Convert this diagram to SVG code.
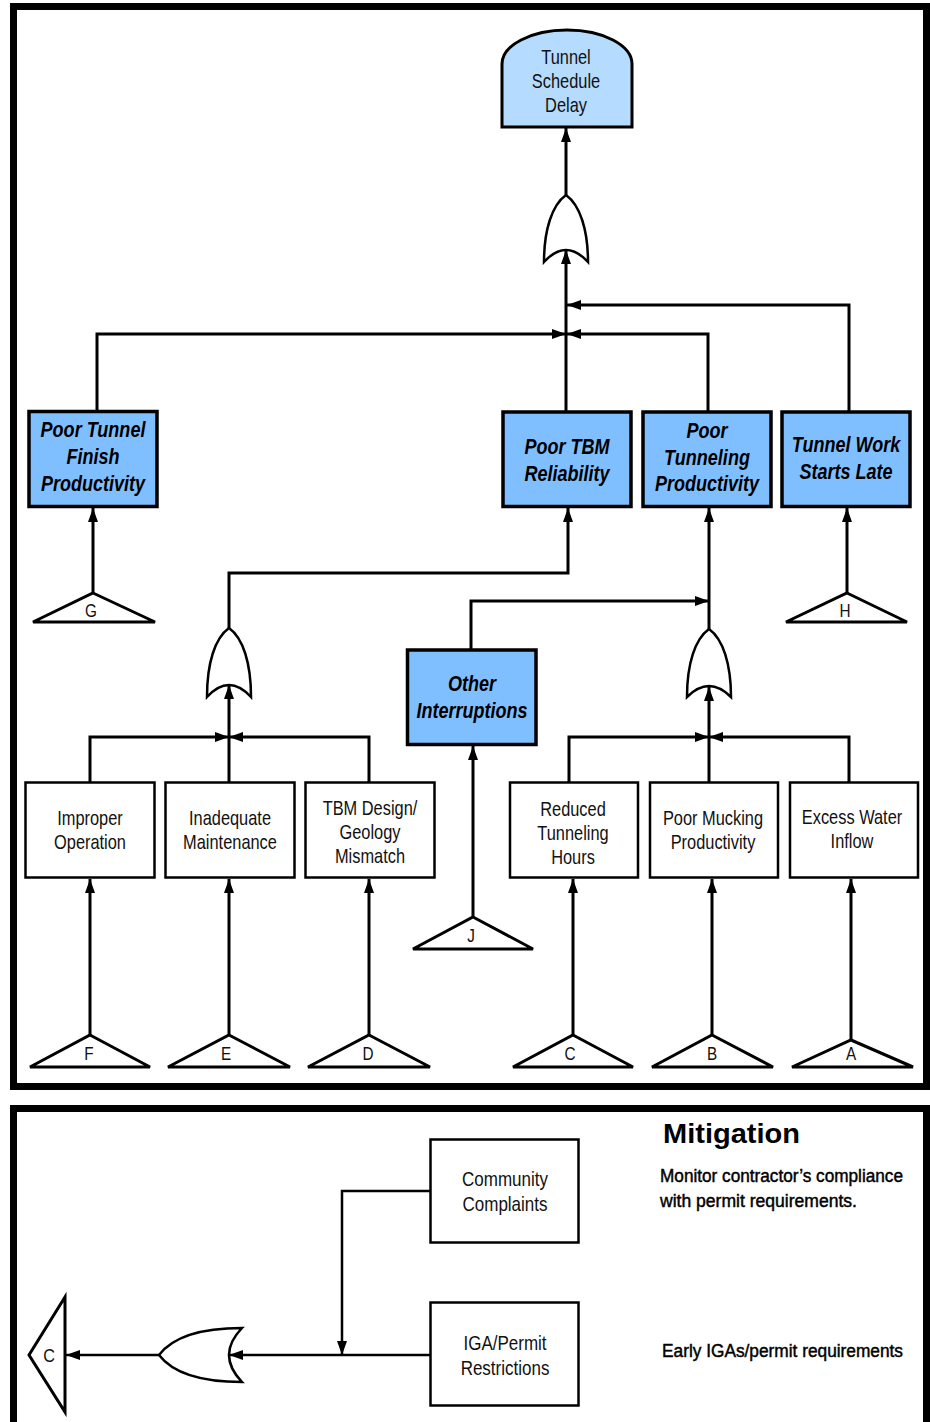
<svg xmlns="http://www.w3.org/2000/svg" width="930" height="1422" viewBox="0 0 930 1422">
  <style>
    .frame { fill: none; stroke: #000; stroke-width: 7; }
    .top { fill: #b5dbff; stroke: #000; stroke-width: 3; }
    .evt { fill: #80bfff; stroke: #000; stroke-width: 3.5; }
    .basic { fill: #fff; stroke: #000; stroke-width: 2.5; }
    .gate { fill: #fff; stroke: #000; stroke-width: 2.5; }
    .tri { fill: #fff; stroke: #000; stroke-width: 3; stroke-linejoin: miter; }
    .wire { fill: none; stroke: #000; stroke-width: 3; marker-end: url(#arrow); }
    .wire2 { fill: none; stroke: #000; stroke-width: 2.5; marker-end: url(#arrow); }
    .lbl { font-family: "Liberation Sans", Arial, sans-serif; font-size: 20px; text-anchor: middle; fill: #111; }
    .bi { font-family: "Liberation Sans", Arial, sans-serif; font-size: 22px; font-weight: bold; font-style: italic; text-anchor: middle; fill: #000; }
    .tl { font-family: "Liberation Sans", Arial, sans-serif; font-size: 18px; text-anchor: middle; fill: #111; }
    .mit { font-family: "Liberation Sans", Arial, sans-serif; font-size: 28px; font-weight: bold; fill: #000; }
    .note { font-family: "Liberation Sans", Arial, sans-serif; font-size: 18px; fill: #000; stroke: #000; stroke-width: 0.45; }
  </style>
  <defs>
    <marker id="arrow" viewBox="0 0 14 10" refX="14" refY="5" markerWidth="14" markerHeight="10" markerUnits="userSpaceOnUse" orient="auto">
      <path d="M0,0 L14,5 L0,10 Z" fill="#000"/>
    </marker>
  </defs>

  <rect width="930" height="1422" fill="#fff"/>

  <!-- panel frames -->
  <rect class="frame" x="13.5" y="6.5" width="913" height="1080"/>
  <rect class="frame" x="13.5" y="1108.5" width="913" height="330"/>

  <!-- connectors -->
  <g id="connectors">
    <polyline class="wire" points="566,195 566,128"/>
    <polyline class="wire" points="566,412 566,250"/>
    <polyline class="wire" points="97,411 97,334 566,334"/>
    <polyline class="wire" points="708,412 708,334 567,334"/>
    <polyline class="wire" points="849,412 849,305 567,305"/>
    <polyline class="wire" points="93,593 93,508"/>
    <polyline class="wire" points="847,593 847,508"/>
    <polyline class="wire" points="229,628 229,573 568,573 568,508"/>
    <polyline class="wire" points="709,629 709,508"/>
    <polyline class="wire" points="471,650 471,601 709,601"/>
    <polyline class="wire" points="90,782 90,737 229,737"/>
    <polyline class="wire" points="369,782 369,737 229,737"/>
    <polyline class="wire" points="229,782 229,685"/>
    <polyline class="wire" points="569,782 569,737 709,737"/>
    <polyline class="wire" points="849,782 849,737 709,737"/>
    <polyline class="wire" points="709,782 709,687"/>
    <polyline class="wire" points="473,917 473,746"/>
    <polyline class="wire" points="90,1035 90,879"/>
    <polyline class="wire" points="229,1035 229,879"/>
    <polyline class="wire" points="369,1035 369,879"/>
    <polyline class="wire" points="573,1035 573,879"/>
    <polyline class="wire" points="712,1035 712,879"/>
    <polyline class="wire" points="851,1040 851,879"/>
    <polyline class="wire2" points="430,1191 342,1191 342,1355"/>
    <polyline class="wire2" points="430,1355 229,1355"/>
    <polyline class="wire2" points="159,1355 66,1355"/>
  </g>

  <!-- top event -->
  <g id="top-event">
    <path class="top" d="M502,127 V64 A65,34 0 0 1 632,64 V127 Z"/>
    <g transform="translate(566 0) scale(0.82 1)">
      <text class="lbl" x="0" y="64">Tunnel</text>
      <text class="lbl" x="0" y="88">Schedule</text>
      <text class="lbl" x="0" y="112">Delay</text>
    </g>
  </g>

  <!-- OR gates -->
  <g id="gate-top">
    <path class="gate" d="M566,195 C552,205 544,230 544,262 Q566,238 588,262 C588,230 580,205 566,195 Z"/>
  </g>
  <g id="gate-tbm">
    <path class="gate" d="M229,628 C215,638 207,663 207,697 Q229,673 251,697 C251,663 243,638 229,628 Z"/>
  </g>
  <g id="gate-tunneling">
    <path class="gate" d="M709,629 C695,639 687,664 687,697 Q709,675 731,697 C731,664 723,639 709,629 Z"/>
  </g>
  <g id="gate-mitigation">
    <path class="gate" d="M159,1355 C172,1338 200,1328 242,1328 Q216,1355 242,1382 C200,1382 172,1372 159,1355 Z"/>
  </g>

  <!-- intermediate events -->
  <g id="poor-tunnel-finish">
    <rect class="evt" x="29" y="411.5" width="128" height="95"/>
    <g transform="translate(93 0) scale(0.82 1)">
      <text class="bi" x="0" y="437">Poor Tunnel</text>
      <text class="bi" x="0" y="464">Finish</text>
      <text class="bi" x="0" y="491">Productivity</text>
    </g>
  </g>
  <g id="poor-tbm-reliability">
    <rect class="evt" x="503" y="412" width="128" height="94.5"/>
    <g transform="translate(567 0) scale(0.82 1)">
      <text class="bi" x="0" y="454">Poor TBM</text>
      <text class="bi" x="0" y="481">Reliability</text>
    </g>
  </g>
  <g id="poor-tunneling-productivity">
    <rect class="evt" x="643" y="412" width="128" height="94.5"/>
    <g transform="translate(707 0) scale(0.82 1)">
      <text class="bi" x="0" y="438">Poor</text>
      <text class="bi" x="0" y="465">Tunneling</text>
      <text class="bi" x="0" y="491">Productivity</text>
    </g>
  </g>
  <g id="tunnel-work-starts-late">
    <rect class="evt" x="782" y="412" width="128" height="94.5"/>
    <g transform="translate(846 0) scale(0.82 1)">
      <text class="bi" x="0" y="452">Tunnel Work</text>
      <text class="bi" x="0" y="479">Starts Late</text>
    </g>
  </g>
  <g id="other-interruptions">
    <rect class="evt" x="407.5" y="650" width="128.5" height="94.5"/>
    <g transform="translate(472 0) scale(0.82 1)">
      <text class="bi" x="0" y="691">Other</text>
      <text class="bi" x="0" y="718">Interruptions</text>
    </g>
  </g>

  <!-- basic events -->
  <g id="improper-operation">
    <rect class="basic" x="25.5" y="782.5" width="129" height="95"/>
    <g transform="translate(90 0) scale(0.82 1)">
      <text class="lbl" x="0" y="825">Improper</text>
      <text class="lbl" x="0" y="849">Operation</text>
    </g>
  </g>
  <g id="inadequate-maintenance">
    <rect class="basic" x="165.5" y="782.5" width="129" height="95"/>
    <g transform="translate(230 0) scale(0.82 1)">
      <text class="lbl" x="0" y="825">Inadequate</text>
      <text class="lbl" x="0" y="849">Maintenance</text>
    </g>
  </g>
  <g id="tbm-design-mismatch">
    <rect class="basic" x="305.5" y="782.5" width="129" height="95"/>
    <g transform="translate(370 0) scale(0.82 1)">
      <text class="lbl" x="0" y="815">TBM Design/</text>
      <text class="lbl" x="0" y="839">Geology</text>
      <text class="lbl" x="0" y="863">Mismatch</text>
    </g>
  </g>
  <g id="reduced-tunneling-hours">
    <rect class="basic" x="510" y="782.5" width="128" height="95"/>
    <g transform="translate(573 0) scale(0.82 1)">
      <text class="lbl" x="0" y="816">Reduced</text>
      <text class="lbl" x="0" y="840">Tunneling</text>
      <text class="lbl" x="0" y="864">Hours</text>
    </g>
  </g>
  <g id="poor-mucking-productivity">
    <rect class="basic" x="650" y="782.5" width="128" height="95"/>
    <g transform="translate(713 0) scale(0.82 1)">
      <text class="lbl" x="0" y="825">Poor Mucking</text>
      <text class="lbl" x="0" y="849">Productivity</text>
    </g>
  </g>
  <g id="excess-water-inflow">
    <rect class="basic" x="790" y="782.5" width="128" height="95"/>
    <g transform="translate(852 0) scale(0.82 1)">
      <text class="lbl" x="0" y="824">Excess Water</text>
      <text class="lbl" x="0" y="848">Inflow</text>
    </g>
  </g>

  <!-- transfer triangles -->
  <g id="transfer-g">
    <polygon class="tri" points="93,593 155,622 33,622"/>
    <text class="tl" transform="translate(91 0) scale(0.85 1)" x="0" y="617">G</text>
  </g>
  <g id="transfer-h">
    <polygon class="tri" points="847,593 907,622 786,622"/>
    <text class="tl" transform="translate(845 0) scale(0.85 1)" x="0" y="617">H</text>
  </g>
  <g id="transfer-j">
    <polygon class="tri" points="473,917 533,949 413,949"/>
    <text class="tl" transform="translate(471 0) scale(0.85 1)" x="0" y="942">J</text>
  </g>
  <g id="transfer-f">
    <polygon class="tri" points="90,1035 150,1067 30,1067"/>
    <text class="tl" transform="translate(89 0) scale(0.85 1)" x="0" y="1060">F</text>
  </g>
  <g id="transfer-e">
    <polygon class="tri" points="229,1035 290,1067 168,1067"/>
    <text class="tl" transform="translate(226 0) scale(0.85 1)" x="0" y="1060">E</text>
  </g>
  <g id="transfer-d">
    <polygon class="tri" points="369,1035 430,1067 308,1067"/>
    <text class="tl" transform="translate(368 0) scale(0.85 1)" x="0" y="1060">D</text>
  </g>
  <g id="transfer-c">
    <polygon class="tri" points="573,1035 633,1067 513,1067"/>
    <text class="tl" transform="translate(570 0) scale(0.85 1)" x="0" y="1060">C</text>
  </g>
  <g id="transfer-b">
    <polygon class="tri" points="712,1035 773,1067 652,1067"/>
    <text class="tl" transform="translate(712 0) scale(0.85 1)" x="0" y="1060">B</text>
  </g>
  <g id="transfer-a">
    <polygon class="tri" points="851,1040 913,1067 792,1067"/>
    <text class="tl" transform="translate(851 0) scale(0.85 1)" x="0" y="1060">A</text>
  </g>

  <!-- mitigation panel -->
  <g id="community-complaints">
    <rect class="basic" x="430.5" y="1139.5" width="148" height="103"/>
    <g transform="translate(505 0) scale(0.85 1)">
      <text class="lbl" x="0" y="1186">Community</text>
      <text class="lbl" x="0" y="1211">Complaints</text>
    </g>
  </g>
  <g id="iga-permit-restrictions">
    <rect class="basic" x="430.5" y="1302.5" width="148" height="103"/>
    <g transform="translate(505 0) scale(0.85 1)">
      <text class="lbl" x="0" y="1350">IGA/Permit</text>
      <text class="lbl" x="0" y="1375">Restrictions</text>
    </g>
  </g>
  <g id="transfer-c-out">
    <polygon class="tri" points="29,1355 65,1297 65,1412"/>
    <text class="tl" transform="translate(49 0) scale(0.9 1)" x="0" y="1362">C</text>
  </g>
  <g id="mitigation-notes">
    <text class="mit" x="663" y="1143" textLength="137" lengthAdjust="spacingAndGlyphs">Mitigation</text>
    <text class="note" x="660" y="1182" textLength="243" lengthAdjust="spacingAndGlyphs">Monitor contractor’s compliance</text>
    <text class="note" x="660" y="1207" textLength="197" lengthAdjust="spacingAndGlyphs">with permit requirements.</text>
    <text class="note" x="662" y="1357" textLength="241" lengthAdjust="spacingAndGlyphs">Early IGAs/permit requirements</text>
  </g>
</svg>
